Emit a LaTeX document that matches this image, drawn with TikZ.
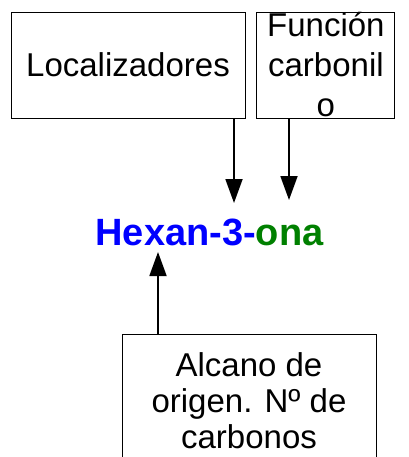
\documentclass[tikz,border=0pt]{standalone}
\usepackage{fontspec}
\setmainfont{Liberation Sans}
\usepackage{tikz}
\usetikzlibrary{arrows.meta,positioning}
\definecolor{hexblue}{RGB}{0,0,255}
\definecolor{onagreen}{RGB}{0,128,0}
\tikzset{blk/.style={draw,line width=0.9pt,inner sep=0pt,font=\fontsize{33}{36}\selectfont,align=center},
         ar/.style={line width=1.8pt,-{Triangle[length=24pt,width=17pt]}},
         lbl/.style={font=\fontsize{38}{40}\selectfont\bfseries}}

\begin{document}
\begin{tikzpicture}[x=1pt,y=-1pt,node distance=4pt and 11pt]
\useasboundingbox (0,0) rectangle (408,457);
\clip (0,0) rectangle (408,457);
\node[blk,minimum width=234pt,minimum height=106pt] (loc) at (128,65) {Localizadores};
\node[blk,minimum width=138pt,minimum height=106pt,right=11pt of loc,
      font=\fontsize{33}{40}\selectfont] (fun) {Función\\carbonil\\o};
\node[lbl,anchor=base] (hex) at (209.5,245) {\textcolor{hexblue}{Hexan-3-}\textcolor{onagreen}{ona}};
\node[blk,minimum width=254pt,minimum height=134pt] (alc) at (249,401) {Alcano de\\origen. Nº de\\carbonos};
% arrow ends
\coordinate (e1) at (234,203);
\coordinate (e2) at (289,200);
\coordinate (e3) at (158,252);
\draw[ar] (loc.south -| e1) -- (e1);
\draw[ar] (fun.south -| e2) -- (e2);
\draw[ar] (alc.north -| e3) -- (e3);
\end{tikzpicture}
\end{document}
